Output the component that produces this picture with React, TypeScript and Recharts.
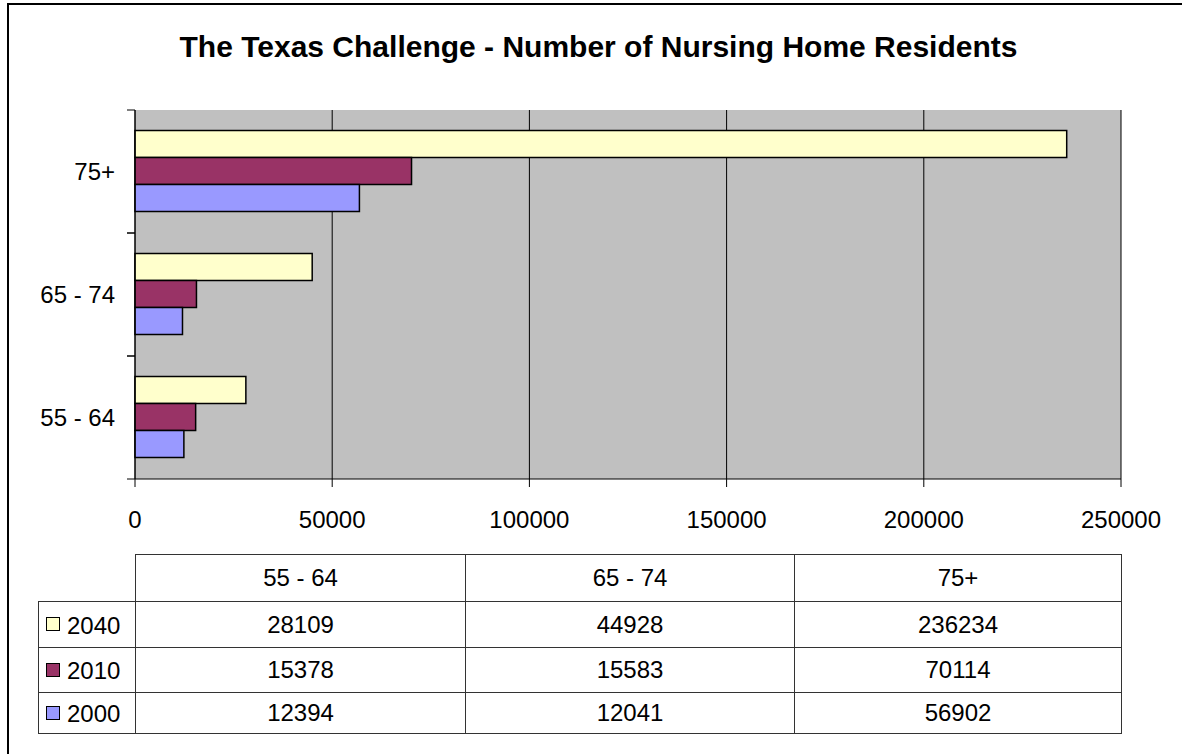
import { BarChart, Bar, XAxis, YAxis, CartesianGrid } from 'recharts'

const categories = ['55 - 64', '65 - 74', '75+']
const years = ['2040', '2010', '2000']
const values2040 = [28109, 44928, 236234]
const values2010 = [15378, 15583, 70114]
const values2000 = [12394, 12041, 56902]
const xTicks = [0, 50000, 100000, 150000, 200000, 250000]

const colors: Record<string, string> = {
  '2040': '#FFFFCC',
  '2010': '#993366',
  '2000': '#9999FF'
}

const seriesValues: Record<string, number[]> = {
  '2040': values2040,
  '2010': values2010,
  '2000': values2000
}

const FONT = '"Liberation Sans", Arial, sans-serif'

const CHART_W = 1182
const CHART_H = 754
const MARGIN = { top: 110, right: 61, bottom: 215, left: 0 }
const X_AXIS_H = 60
// height of one category band, used to put tick marks on the band edges like Excel
const BAND = (CHART_H - MARGIN.top - MARGIN.bottom - X_AXIS_H) / categories.length

function CategoryTick(props: any) {
  const { x, y, payload } = props
  return (
    <g>
      <line x1={x - 8} x2={x} y1={y - BAND / 2} y2={y - BAND / 2} stroke="#000" />
      <line x1={x - 8} x2={x} y1={y + BAND / 2} y2={y + BAND / 2} stroke="#000" />
      <text
        x={x - 20}
        y={y}
        dy="0.355em"
        textAnchor="end"
        fill="#000"
        fontSize={24}
        fontFamily={FONT}
      >
        {payload.value}
      </text>
    </g>
  )
}

const colWidths = [97, 330, 329, 327]
const rowHeights = [47, 46, 45, 41]

function DataTable() {
  const border = '1px solid #333'
  return (
    <table
      style={{
        position: 'absolute',
        left: 38,
        top: 554,
        borderCollapse: 'collapse',
        tableLayout: 'fixed',
        width: colWidths.reduce((a, b) => a + b, 0),
        fontFamily: FONT,
        fontSize: 24,
        color: '#000'
      }}
    >
      <colgroup>
        {colWidths.map((w, i) => (
          <col key={i} style={{ width: w }} />
        ))}
      </colgroup>
      <tbody>
        <tr style={{ height: rowHeights[0] }}>
          <td style={{ border: 'none', padding: 0 }} />
          {categories.map(c => (
            <td key={c} style={{ border, textAlign: 'center', padding: 0 }}>
              {c}
            </td>
          ))}
        </tr>
        {years.map((y, r) => (
          <tr key={y} style={{ height: rowHeights[r + 1] }}>
            <td style={{ border, padding: '0 0 0 7px', whiteSpace: 'nowrap' }}>
              <span
                style={{
                  display: 'inline-block',
                  width: 12,
                  height: 12,
                  background: colors[y],
                  border: '1.5px solid #000',
                  marginRight: 7,
                  verticalAlign: 'middle',
                  position: 'relative',
                  top: -1
                }}
              />
              <span style={{ verticalAlign: 'middle' }}>{y}</span>
            </td>
            {seriesValues[y].map((v, i) => (
              <td key={i} style={{ border, textAlign: 'center', padding: 0 }}>
                {v}
              </td>
            ))}
          </tr>
        ))}
      </tbody>
    </table>
  )
}

export default function App() {
  const data = categories.map((c, i) => ({
    name: c,
    '2040': values2040[i],
    '2010': values2010[i],
    '2000': values2000[i]
  }))

  return (
    <div
      style={{
        position: 'absolute',
        left: 0,
        top: 0,
        width: CHART_W,
        height: CHART_H,
        overflow: 'hidden',
        background: '#fff',
        fontFamily: FONT
      }}
    >
      <div
        style={{
          position: 'absolute',
          left: 7,
          top: 3,
          width: 1200,
          height: 800,
          border: '2px solid #000'
        }}
      />
      <div
        style={{
          position: 'absolute',
          left: 0,
          top: 32,
          width: 1197,
          textAlign: 'center',
          fontSize: 30,
          lineHeight: '30px',
          fontWeight: 'bold'
        }}
      >
        The Texas Challenge - Number of Nursing Home Residents
      </div>

      <div style={{ position: 'absolute', left: 0, top: 0 }}>
        <BarChart
          width={CHART_W}
          height={CHART_H}
          data={data}
          layout="vertical"
          margin={MARGIN}
          barCategoryGap="16.7%"
          barGap={0}
        >
          <CartesianGrid
            horizontal={false}
            vertical={true}
            stroke="#000"
            strokeWidth={1}
            fill="#C0C0C0"
            fillOpacity={1}
          />
          <YAxis
            type="category"
            dataKey="name"
            reversed
            width={135}
            tickLine={false}
            tickSize={0}
            tickMargin={0}
            axisLine={{ stroke: '#000' }}
            tick={<CategoryTick />}
          />
          <XAxis
            type="number"
            domain={[0, 250000]}
            ticks={xTicks}
            height={X_AXIS_H}
            tickSize={8}
            tickMargin={24}
            axisLine={{ stroke: '#000' }}
            tickLine={{ stroke: '#000' }}
            tick={{ fill: '#000', fontSize: 24, fontFamily: FONT }}
          />
          {years.map(y => (
            <Bar
              key={y}
              dataKey={y}
              fill={colors[y]}
              stroke="#000"
              strokeWidth={1.5}
              isAnimationActive={false}
            />
          ))}
        </BarChart>
      </div>

      <DataTable />
    </div>
  )
}
